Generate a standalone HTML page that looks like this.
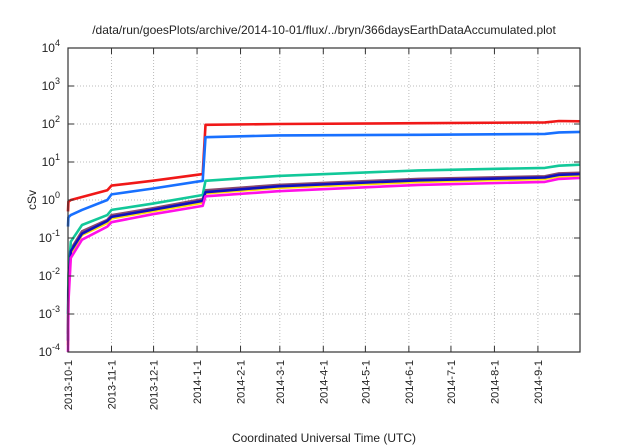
<!DOCTYPE html>
<html><head><meta charset="utf-8"><style>
html,body{margin:0;padding:0;background:#fff;}
svg{display:block;font-family:"Liberation Sans",sans-serif;}
</style></head><body>
<svg id="chart" width="640" height="448" viewBox="0 0 640 448">
<text x="324" y="34" font-size="12" text-anchor="middle" fill="#222">/data/run/goesPlots/archive/2014-10-01/flux/../bryn/366daysEarthDataAccumulated.plot</text>
<text transform="translate(36,200) rotate(-90)" font-size="12" text-anchor="middle" fill="#222">cSv</text>
<text x="324" y="442" font-size="12" text-anchor="middle" fill="#222">Coordinated Universal Time (UTC)</text>
<g id="grid"></g><g id="series"></g><g id="axes"></g>
</svg>
<script>
const xTickLabels=["2013-10-1","2013-11-1","2013-12-1","2014-1-1","2014-2-1","2014-3-1","2014-4-1","2014-5-1","2014-6-1","2014-7-1","2014-8-1","2014-9-1"];
const xTickDays=[0,31,61,92,123,151,182,212,243,273,304,335];
const yTickExps=[-4,-3,-2,-1,0,1,2,3,4];
const days=[0,0.3,2,10,28,31,60,96,98,150,250,340,350,365];
const redVals=[0.5,0.9,1.0,1.2,1.8,2.4,3.2,4.8,95,100,105,110,120,118];
const blueVals=[0.2,0.35,0.4,0.55,1.0,1.4,2.0,3.2,45,50,52,55,60,62];
const tealVals=[0.001,0.01,0.08,0.22,0.4,0.55,0.8,1.35,3.2,4.3,6,7,8,8.5];
const brownVals=[0.0003,0.005,0.05,0.15,0.3,0.4,0.6,1.05,1.8,2.5,3.6,4.2,5.0,5.2];
const navyVals=[0.0002,0.004,0.045,0.13,0.28,0.36,0.55,0.95,1.6,2.3,3.3,3.9,4.6,4.8];
const yellowVals=[0.00015,0.003,0.04,0.12,0.25,0.33,0.5,0.85,1.5,2.1,3.0,3.6,4.2,4.4];
const magentaVals=[0.0001,0.002,0.03,0.09,0.2,0.26,0.42,0.7,1.25,1.7,2.5,3.0,3.6,3.8];

const L=68,R=580,T=48,B=352,NS="http://www.w3.org/2000/svg";
const X=d=>L+(R-L)*d/365;
const Y=v=>B-(B-T)*(Math.log10(Math.max(v,1e-4))+4)/8;
function mk(tag,attrs,parent){const e=document.createElementNS(NS,tag);for(const k in attrs)e.setAttribute(k,attrs[k]);parent.appendChild(e);return e;}
const grid=document.getElementById('grid'),axes=document.getElementById('axes'),ser=document.getElementById('series');
yTickExps.forEach((p,i)=>{
  const y=Y(Math.pow(10,p));
  if(i>0&&i<yTickExps.length-1){const g=mk('line',{x1:L,x2:R,y1:y,y2:y,stroke:'#bbb','stroke-dasharray':'1,2','stroke-width':1},grid);
  
  }
  const t1=mk('line',{x1:L,x2:L+6,y1:y,y2:y,stroke:'#333'},axes);
  const t2=mk('line',{x1:R-6,x2:R,y1:y,y2:y,stroke:'#333'},axes);
  const t=mk('text',{x:L-8,y:y+4,'font-size':12,'text-anchor':'end',fill:'#222'},axes);
  
  
  t.textContent='10';
  const s=mk('tspan',{dy:-6,'font-size':9},t);s.textContent=String(p);
});
xTickDays.forEach((d,i)=>{
  const x=X(d);
  if(i>0){const g=mk('line',{x1:x,x2:x,y1:T,y2:B,stroke:'#bbb','stroke-dasharray':'1,2','stroke-width':1},grid);
  
  }
  mk('line',{x1:x,x2:x,y1:B,y2:B-6,stroke:'#333'},axes);
  mk('line',{x1:x,x2:x,y1:T,y2:T+6,stroke:'#333'},axes);
  const t=mk('text',{transform:`translate(${x+4},360) rotate(-90)`,'font-size':11,'text-anchor':'end',fill:'#222'},axes);
  
  
  t.textContent=xTickLabels[i];
});
const fr=mk('rect',{x:L,y:T,width:R-L,height:B-T,fill:'none',stroke:'#333','stroke-width':1.2},axes);


const series=[[brownVals,'#8a4a6e','series-brown'],[tealVals,'#12c899','series-teal'],[redVals,'#f01818','series-red'],[blueVals,'#1870ff','series-blue'],[yellowVals,'#ffe000','series-yellow'],[navyVals,'#1010c0','series-navy'],[magentaVals,'#ff10e8','series-magenta']];
series.forEach(([vals,col,name])=>{
  const pts=days.map((d,i)=>X(d).toFixed(1)+','+Y(vals[i]).toFixed(1)).join(' ');
  const p=mk('polyline',{points:pts,fill:'none',stroke:col,'stroke-width':2.6,'stroke-linejoin':'round'},ser);
  
  
});
</script>
</body></html>
